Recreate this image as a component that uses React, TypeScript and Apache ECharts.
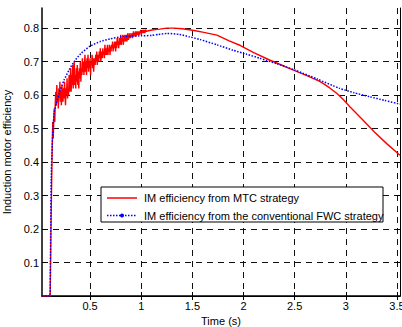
import React, { useEffect, useRef } from "react";
import * as echarts from "echarts";

// MTC strategy: start-up and smooth tail (time, efficiency)
const mtcStartTime = [0.03, 0.11, 0.12];
const mtcStartEff = [0, 0, 0.25];
// MTC strategy: noisy part sampled every 0.005 s from 0.13 s
const mtcNoisyStart = 0.13;
const mtcNoisyStep = 0.005;
const mtcNoisyEff = [
  0.45, 0.52, 0.47, 0.53, 0.56, 0.52, 0.58,
  0.61, 0.57, 0.63, 0.58, 0.60, 0.56, 0.62, 0.59, 0.64, 0.58, 0.61, 0.57, 0.63, 0.60, 0.58, 0.62, 0.59, 0.64, 0.60, 0.57, 0.62, 0.60, 0.65, 0.59, 0.62, 0.60, 0.66, 0.61,
  0.64, 0.68, 0.61, 0.66, 0.63, 0.69, 0.62, 0.67, 0.70, 0.63, 0.66, 0.62, 0.68, 0.64, 0.69, 0.63, 0.67, 0.62, 0.68, 0.65, 0.70, 0.64,
  0.68, 0.66, 0.71, 0.67, 0.70, 0.66, 0.69, 0.72, 0.67, 0.70, 0.66, 0.71, 0.68, 0.72, 0.67, 0.70, 0.68, 0.71, 0.66, 0.70, 0.69, 0.72, 0.68, 0.71, 0.67, 0.70,
  0.71, 0.69, 0.72, 0.70, 0.73, 0.69, 0.71, 0.72, 0.70, 0.73, 0.71, 0.74, 0.70, 0.72, 0.73, 0.71, 0.74, 0.72, 0.73, 0.71, 0.75, 0.72, 0.74, 0.72, 0.73, 0.75, 0.72, 0.74, 0.73, 0.75, 0.72, 0.745,
  0.73, 0.75, 0.74, 0.76, 0.73, 0.75, 0.74, 0.76, 0.75, 0.73, 0.76, 0.74, 0.77, 0.75, 0.76, 0.74, 0.77, 0.75, 0.76, 0.78, 0.75, 0.77, 0.76, 0.78, 0.75, 0.77, 0.76, 0.78, 0.77, 0.76, 0.78, 0.76, 0.775, 0.785, 0.765, 0.78, 0.77, 0.785, 0.77, 0.78,
  0.775, 0.785, 0.77, 0.78, 0.79, 0.775, 0.785, 0.78, 0.79, 0.775, 0.785, 0.79, 0.78, 0.785, 0.79, 0.78, 0.79, 0.785, 0.795, 0.78, 0.79, 0.785, 0.795, 0.785, 0.79, 0.795, 0.785, 0.79, 0.795, 0.79,
];
const mtcTailTime = [1.07, 1.12, 1.18, 1.25, 1.32, 1.4, 1.47, 1.53, 1.6, 1.74, 1.86, 1.97, 2.1, 2.26, 2.4, 2.5, 2.62, 2.75, 2.84, 2.92, 2.98, 3.04, 3.16, 3.28, 3.4, 3.53];
const mtcTailEff = [0.792, 0.795, 0.797, 0.8, 0.8, 0.798, 0.795, 0.792, 0.788, 0.779, 0.762, 0.748, 0.727, 0.704, 0.686, 0.673, 0.658, 0.64, 0.622, 0.603, 0.585, 0.565, 0.528, 0.49, 0.455, 0.42];

// Conventional FWC strategy (time, efficiency)
const fwcTime = [0.03, 0.105, 0.112, 0.12, 0.13, 0.148, 0.17, 0.197, 0.246, 0.295, 0.344, 0.41, 0.5, 0.6, 0.7, 0.8, 0.9, 1.0, 1.1, 1.17, 1.252, 1.375, 1.47, 1.574, 1.74, 1.896, 2.03, 2.16, 2.33, 2.5, 2.72, 2.94, 3.08, 3.234, 3.38, 3.53];
const fwcEff = [0, 0, 0.1, 0.35, 0.45, 0.546, 0.575, 0.605, 0.645, 0.675, 0.7, 0.724, 0.746, 0.76, 0.768, 0.774, 0.776, 0.777, 0.778, 0.781, 0.784, 0.781, 0.774, 0.766, 0.75, 0.734, 0.722, 0.71, 0.693, 0.675, 0.648, 0.62, 0.607, 0.595, 0.584, 0.573];

const xTicks = [0.5, 1, 1.5, 2, 2.5, 3, 3.5];
const yTicks = [0.1, 0.2, 0.3, 0.4, 0.5, 0.6, 0.7, 0.8];
const yTickMarks = [0, 0.1, 0.2, 0.3, 0.4, 0.5, 0.6, 0.7, 0.8];

const seriesNames = [
  "IM efficiency from MTC strategy",
  "IM efficiency from the conventional FWC strategy",
];

const FONT = "'Liberation Sans', Arial, sans-serif";

export default function App() {
  const ref = useRef<HTMLDivElement>(null);
  useEffect(() => {
    if (!ref.current) return;
    const chart = echarts.init(ref.current, null, { renderer: "svg" });
    const mtc: number[][] = [];
    mtcStartTime.forEach((t, i) => mtc.push([t, mtcStartEff[i]]));
    mtcNoisyEff.forEach((v, i) => mtc.push([+(mtcNoisyStart + i * mtcNoisyStep).toFixed(3), v]));
    mtcTailTime.forEach((t, i) => mtc.push([t, mtcTailEff[i]]));
    const fwc = fwcTime.map((t, i) => [t, fwcEff[i]]);
    const xMin = 0.03;
    const xMax = 3.53;
    const yMin = 0;
    const yMax = 0.86;
    const dash = { color: "#111", width: 1, type: [6, 5] as any };
    const z = 100;
    chart.setOption({
      animation: false,
      textStyle: { fontFamily: FONT },
      grid: { left: 42, right: 2, top: 8, bottom: 31, containLabel: false, outerBoundsMode: "none" },
      xAxis: [
        {
          type: "value",
          min: xMin,
          max: xMax,
          name: "Time (s)",
          nameLocation: "middle",
          nameGap: 15,
          nameTextStyle: { color: "#000", fontSize: 11, fontFamily: FONT },
          axisLine: { show: true, lineStyle: { color: "#000", width: 1.5 } },
          axisTick: { inside: true, length: 4, customValues: xTicks, lineStyle: { color: "#000" } },
          axisLabel: { customValues: xTicks, color: "#000", fontSize: 11, margin: 4, fontFamily: FONT, showMinLabel: true, showMaxLabel: true, hideOverlap: false },
          splitLine: { show: true, lineStyle: dash },
        },
        {
          type: "value",
          position: "top",
          min: xMin,
          max: xMax,
          axisLine: { show: true, lineStyle: { color: "#000", width: 1 } },
          axisTick: { inside: true, length: 4, customValues: xTicks, lineStyle: { color: "#000" } },
          axisLabel: { show: false },
          splitLine: { show: false },
        },
      ],
      yAxis: [
        {
          type: "value",
          min: yMin,
          max: yMax,
          name: "Induction motor efficiency",
          nameLocation: "middle",
          nameGap: 23,
          nameTextStyle: { color: "#000", fontSize: 11, fontFamily: FONT },
          axisLine: { show: true, lineStyle: { color: "#000", width: 1.5 } },
          axisTick: { inside: true, length: 4, customValues: yTickMarks, lineStyle: { color: "#000" } },
          axisLabel: { customValues: yTicks, color: "#000", fontSize: 11, margin: 3, fontFamily: FONT },
          splitLine: { show: true, lineStyle: dash },
        },
        {
          type: "value",
          position: "right",
          min: yMin,
          max: yMax,
          axisLine: { show: true, lineStyle: { color: "#000", width: 1 } },
          axisTick: { inside: true, length: 4, customValues: yTickMarks, lineStyle: { color: "#000" } },
          axisLabel: { show: false },
          splitLine: { show: false },
        },
      ],
      series: [
        {
          name: seriesNames[0],
          type: "line",
          data: mtc,
          showSymbol: false,
          symbol: "none",
          lineStyle: { color: "#ff0000", width: 1.4 },
          z: 2,
        },
        {
          name: seriesNames[1],
          type: "line",
          data: fwc,
          showSymbol: false,
          symbol: "none",
          smooth: 0.2,
          lineStyle: { color: "#0000ff", width: 1.5, type: [1.5, 1.5] as any },
          z: 3,
        },
      ],
      graphic: [
        { type: "rect", z, shape: { x: 101, y: 187, width: 282, height: 35 }, style: { fill: "#fff", stroke: "#000", lineWidth: 1 } },
        { type: "line", z: z + 1, shape: { x1: 107, y1: 198, x2: 137, y2: 198 }, style: { stroke: "#ff0000", lineWidth: 1.5 } },
        { type: "line", z: z + 1, shape: { x1: 107, y1: 215.5, x2: 137, y2: 215.5 }, style: { stroke: "#0000ff", lineWidth: 1.5, lineDash: [1.5, 1.5] } },
        { type: "circle", z: z + 1, shape: { cx: 122, cy: 215.5, r: 2 }, style: { fill: "#0000ff" } },
        { type: "text", z: z + 1, x: 144, y: 198, style: { text: seriesNames[0], fill: "#000", fontSize: 11, fontFamily: FONT, verticalAlign: "middle" } },
        { type: "text", z: z + 1, x: 144, y: 215.5, style: { text: seriesNames[1], fill: "#000", fontSize: 11, fontFamily: FONT, verticalAlign: "middle" } },
      ],
    });
    return () => chart.dispose();
  }, []);
  return <div ref={ref} style={{ position: "absolute", left: 0, top: 0, width: 402, height: 327 }} />;
}
